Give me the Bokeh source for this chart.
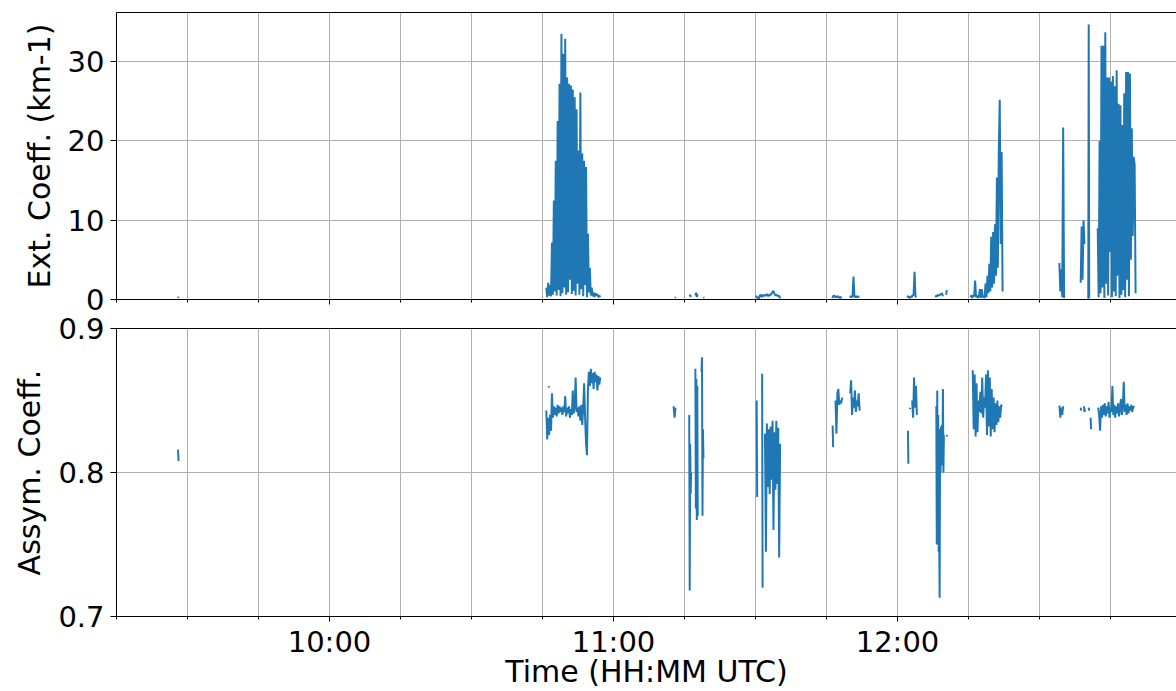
import math
from bokeh.plotting import figure
from bokeh.layouts import column
from bokeh.models import Range1d, FixedTicker, LinearAxis, ColumnDataSource
from bokeh.embed import file_html
from bokeh.resources import INLINE

# ---------------- data (times in minutes after 09:00 UTC) ----------------
# Extinction coefficient (km-1): each segment = start minute, sample step (min), values
ext_start = [28.0, 105.8, 133.0, 136.1, 137.3, 139.0, 150.1, 166.2, 169.9, 182.0,
             188.0, 190.3, 195.4, 214.2, 218.7, 220.3, 222.3]
ext_step = [0.1, 0.2, 0.1, 0.1, 0.15, 0.1, 0.2, 0.2, 0.2, 0.2,
            0.2, 0.1, 0.2, 0.2, 0.2, 0.1, 0.2]
ext_seg_a = [0.2, 0.35]
ext_seg_b = [1.5, 0.3, 2.1, 0.5, 1.8, 0.4, 7.2, 0.6, 12.5, 1.0,
             17.5, 0.5, 22.5, 1.2, 27.2, 0.4, 33.5, 0.8, 31.0, 1.5,
             32.9, 0.6, 28.0, 0.9, 27.2, 2.5, 27.0, 0.7, 26.5, 1.1,
             25.5, 0.5, 24.0, 2.0, 18.8, 0.6, 26.1, 1.3, 18.4, 0.4,
             17.5, 1.8, 16.7, 0.3, 8.3, 0.9, 4.0, 0.5, 1.5, 0.4,
             0.9, 0.3, 0.8, 0.5, 0.7, 0.3, 0.5, 0.3]
ext_seg_c1 = [0.3, 0.2]
ext_seg_c2 = [0.4, 0.6, 0.3]
ext_seg_c3 = [0.5, 0.85, 0.3, 0.7]
ext_seg_c4 = [0.3, 0.2]
ext_seg_c5 = [0.5, 0.2, 0.3, 0.1, 0.5, 0.6, 0.3, 0.5, 0.6, 0.4, 0.6, 0.5, 0.7, 0.4,
              0.6, 0.5, 0.7, 0.8, 1.1, 0.9, 0.6, 0.5, 0.6, 0.4, 0.5, 0.3, 0.2]
ext_seg_c6 = [0.2, 0.4, 0.5, 0.3, 0.4, 0.3, 0.4, 0.3, 0.2, 0.3, 0.2]
ext_seg_c7 = [0.3, 0.4, 0.3, 0.4, 2.9, 0.4, 0.3, 0.4, 0.3, 0.4, 0.3]
ext_seg_c8 = [0.3, 0.4, 0.3, 0.2, 0.4, 0.3, 0.5, 0.6, 3.5, 0.4, 0.3]
ext_seg_c9 = [0.3, 0.5, 0.4, 0.6, 0.5, 0.6, 0.7, 0.8, 0.4]
ext_seg_c10 = [0.6, 1.2]
ext_seg_d = [0.3, 0.5, 0.2, 0.6, 0.4, 2.4, 0.3, 0.5, 0.2, 0.4,
             1.3, 0.2, 1.3, 0.3, 0.4, 0.2, 2.0, 0.3, 3.0, 0.8,
             4.5, 1.0, 7.9, 1.5, 8.5, 2.0, 9.5, 3.0, 15.4, 4.0,
             18.6, 25.2, 7.0, 18.6, 1.0]
ext_seg_e = [4.6, 1.0, 3.8, 0.3, 21.7, 0.2]
ext_seg_f = [2.1, 9.2, 2.5, 10.0, 7.0]
ext_seg_g = [0.1, 34.7, 0.2]
ext_seg_h = [9.0, 0.3, 20.0, 0.8, 32.0, 1.5, 32.0, 0.2, 33.7, 2.0,
             28.0, 0.5, 28.0, 6.0, 27.5, 0.3, 28.2, 1.0, 26.9, 0.4,
             28.9, 3.0, 24.7, 0.2, 24.5, 0.6, 22.0, 1.2, 26.0, 0.3,
             28.7, 2.5, 28.7, 0.4, 28.5, 5.0, 21.6, 8.0, 18.0, 17.0, 0.8]
ext_segments = [ext_seg_a, ext_seg_b, ext_seg_c1, ext_seg_c2, ext_seg_c3, ext_seg_c4,
                ext_seg_c5, ext_seg_c6, ext_seg_c7, ext_seg_c8, ext_seg_c9, ext_seg_c10,
                ext_seg_d, ext_seg_e, ext_seg_f, ext_seg_g, ext_seg_h]

# Asymmetry coefficient
asy_start = [28.0, 106.3, 105.8, 132.7, 136.0, 137.3, 138.6, 150.25, 151.4, 152.0,
             166.3, 166.9, 170.0, 182.2, 182.6, 183.1, 188.2, 190.4, 195.9, 214.2,
             218.7, 219.4, 220.4, 220.8, 222.4]
asy_step = [0.1, 0.1, 0.2, 0.2, 0.1, 0.1, 0.1, 0.1, 0.1, 0.2,
            0.1, 0.2, 0.2, 0.1, 0.1, 0.2, 0.1, 0.1, 0.2, 0.2,
            0.1, 0.1, 0.1, 0.1, 0.2]
asy_seg_a = [0.816, 0.808]
asy_seg_dot = [0.860, 0.859]
asy_seg_b = [0.843, 0.823, 0.838, 0.826, 0.840, 0.829, 0.855, 0.838, 0.846, 0.840,
             0.845, 0.839, 0.847, 0.841, 0.846, 0.842, 0.845, 0.840, 0.846, 0.842,
             0.853, 0.839, 0.845, 0.841, 0.846, 0.838, 0.844, 0.840, 0.857, 0.841,
             0.846, 0.866, 0.842, 0.845, 0.839, 0.846, 0.836, 0.847, 0.833, 0.845,
             0.862, 0.838, 0.820, 0.812, 0.858, 0.870, 0.860, 0.872, 0.862, 0.869,
             0.858, 0.870, 0.863, 0.868, 0.857, 0.867, 0.861, 0.866]
asy_seg_c = [0.846, 0.838, 0.845]
asy_seg_d1 = [0.840, 0.718, 0.820, 0.785, 0.800]
asy_seg_d2 = [0.872, 0.775, 0.865, 0.767, 0.860, 0.770]
asy_seg_d3 = [0.870, 0.880, 0.770, 0.830, 0.810]
asy_seg_e1 = [0.850, 0.783]
asy_seg_e2 = [0.8685, 0.720]
asy_seg_e3 = [0.827, 0.745, 0.834, 0.790, 0.830, 0.785, 0.832, 0.795, 0.836, 0.760,
              0.828, 0.788, 0.836, 0.792, 0.831, 0.741, 0.820]
asy_seg_f1 = [0.8326, 0.8176]
asy_seg_f2 = [0.850, 0.827, 0.855, 0.858, 0.847, 0.850, 0.848, 0.852]
asy_seg_g = [0.855, 0.864, 0.840, 0.852, 0.845, 0.857, 0.842, 0.850, 0.846, 0.855, 0.843]
asy_seg_h1 = [0.829, 0.806]
asy_seg_h2 = [0.844, 0.845]
asy_seg_h3 = [0.850, 0.838, 0.866, 0.845, 0.860, 0.840]
asy_seg_i = [0.846, 0.750, 0.857, 0.760, 0.840, 0.745, 0.760, 0.713, 0.830, 0.800,
             0.832, 0.805, 0.833, 0.810, 0.858, 0.800, 0.826]
asy_seg_i2 = [0.825, 0.826]
asy_seg_j = [0.871, 0.830, 0.868, 0.825, 0.862, 0.828, 0.850, 0.842, 0.856, 0.841,
             0.866, 0.838, 0.852, 0.845, 0.868, 0.826, 0.871, 0.832, 0.866, 0.825,
             0.858, 0.830, 0.852, 0.828, 0.848, 0.833, 0.850, 0.835, 0.846, 0.838,
             0.847, 0.846]
asy_seg_k = [0.8465, 0.838, 0.845, 0.840, 0.846]
asy_seg_l1 = [0.845, 0.843]
asy_seg_l2 = [0.846, 0.842, 0.844]
asy_seg_m1 = [0.845, 0.843]
asy_seg_m2 = [0.838, 0.830]
asy_seg_n = [0.845, 0.840, 0.829, 0.846, 0.838, 0.847, 0.840, 0.848, 0.839, 0.846,
             0.841, 0.849, 0.838, 0.845, 0.842, 0.860, 0.840, 0.847, 0.838, 0.846,
             0.841, 0.848, 0.839, 0.845, 0.851, 0.840, 0.846, 0.863, 0.842, 0.847,
             0.840, 0.848, 0.841, 0.846, 0.843, 0.847, 0.842, 0.846, 0.845]
asy_segments = [asy_seg_a, asy_seg_dot, asy_seg_b, asy_seg_c, asy_seg_d1, asy_seg_d2,
                asy_seg_d3, asy_seg_e1, asy_seg_e2, asy_seg_e3, asy_seg_f1, asy_seg_f2,
                asy_seg_g, asy_seg_h1, asy_seg_h2, asy_seg_h3, asy_seg_i, asy_seg_i2,
                asy_seg_j, asy_seg_k, asy_seg_l1, asy_seg_l2, asy_seg_m1, asy_seg_m2,
                asy_seg_n]

hour_ticks = [10, 11, 12]
hour_labels = ["10:00", "11:00", "12:00"]
quarter_ticks = [9.25, 9.5, 9.75, 10.25, 10.5, 10.75, 11.25, 11.5, 11.75, 12.25, 12.5, 12.75]
ext_ticks = [0, 10, 20, 30]
asy_ticks = [0.7, 0.8, 0.9]


def build(starts, steps, segments):
    xs, ys = [], []
    for s, st, vals in zip(starts, steps, segments):
        for i, v in enumerate(vals):
            xs.append(9.0 + (s + i * st) / 60.0)
            ys.append(v)
        xs.append(float("nan"))
        ys.append(float("nan"))
    return ColumnDataSource(data=dict(x=xs, y=ys))


BLUE = "#1f77b4"
GRID = "#b0b0b0"
FONT = "DejaVu Sans"
TICK_FS = "29px"
LABEL_FS = "30px"

x_range = Range1d(9.25, 9.25 + 1060.0 / 284.0)


def style(p, yticks, ylabel, show_xlabels, xlabel=None):
    p.outline_line_color = None
    p.background_fill_color = "white"
    p.border_fill_color = None
    # x axis (below)
    xa = p.below[0]
    xa.ticker = FixedTicker(ticks=hour_ticks, minor_ticks=quarter_ticks)
    xa.major_label_overrides = {t: l for t, l in zip(hour_ticks, hour_labels)}
    xa.major_tick_out = 5
    xa.major_tick_in = 0
    xa.minor_tick_out = 3
    xa.minor_tick_in = 0
    xa.axis_line_color = "black"
    xa.major_tick_line_color = "black"
    xa.minor_tick_line_color = "black"
    xa.major_label_text_font = FONT
    xa.major_label_text_color = "black"
    if show_xlabels:
        xa.major_label_text_font_size = TICK_FS
        xa.major_label_standoff = 3
    else:
        xa.major_label_text_font_size = "0px"
        xa.major_label_text_alpha = 0
        xa.major_label_standoff = 0
    if xlabel:
        xa.axis_label = xlabel
        xa.axis_label_standoff = -8
        xa.axis_label_text_font = FONT
        xa.axis_label_text_font_size = LABEL_FS
        xa.axis_label_text_font_style = "normal"
        xa.axis_label_text_color = "black"
    # y axis
    ya = p.left[0]
    ya.ticker = FixedTicker(ticks=yticks)
    ya.minor_tick_out = 0
    ya.minor_tick_in = 0
    ya.major_tick_out = 6
    ya.major_tick_in = 0
    ya.major_label_standoff = 6
    ya.axis_line_color = "black"
    ya.major_tick_line_color = "black"
    ya.major_label_text_font = FONT
    ya.major_label_text_font_size = TICK_FS
    ya.major_label_text_color = "black"
    ya.axis_label = ylabel
    ya.axis_label_standoff = 8
    ya.axis_label_text_font = FONT
    ya.axis_label_text_font_size = LABEL_FS
    ya.axis_label_text_font_style = "normal"
    ya.axis_label_text_color = "black"
    # grids
    p.xgrid.grid_line_color = GRID
    p.xgrid.minor_grid_line_color = GRID
    p.xgrid.grid_line_width = 1
    p.xgrid.minor_grid_line_width = 1
    p.ygrid.grid_line_color = GRID
    p.ygrid.grid_line_width = 1
    # top spine
    top = LinearAxis(ticker=FixedTicker(ticks=[]), major_tick_out=0, major_tick_in=0,
                     minor_tick_out=0, minor_tick_in=0, major_label_text_font_size="0px",
                     major_label_standoff=0, axis_line_color="black")
    p.add_layout(top, "above")


# top panel: frame y 12..299 (canvas 0..319)
p1 = figure(width=1176, height=319, x_range=x_range, y_range=Range1d(0, 36.2),
            output_backend="svg", toolbar_location=None,
            min_border_left=116, min_border_right=0, min_border_top=12, min_border_bottom=20)
style(p1, ext_ticks, "Ext. Coeff. (km-1)", False)
p1.line("x", "y", source=build(ext_start, ext_step, ext_segments), line_color=BLUE, line_width=2)

# bottom panel: canvas 308..691 (overlaps the top canvas by 11 px), frame y 328..616
p2 = figure(width=1176, height=383, x_range=x_range, y_range=Range1d(0.7, 0.9),
            output_backend="svg", toolbar_location=None,
            min_border_left=116, min_border_right=0, min_border_top=20, min_border_bottom=75)
style(p2, asy_ticks, "Assym. Coeff.", True, "Time (HH:MM UTC)")
p2.line("x", "y", source=build(asy_start, asy_step, asy_segments), line_color=BLUE, line_width=2)
p2.margin = (-11, 0, 0, 0)

layout = column(p1, p2, spacing=0)
open("out.html", "w").write(file_html(layout, INLINE))
